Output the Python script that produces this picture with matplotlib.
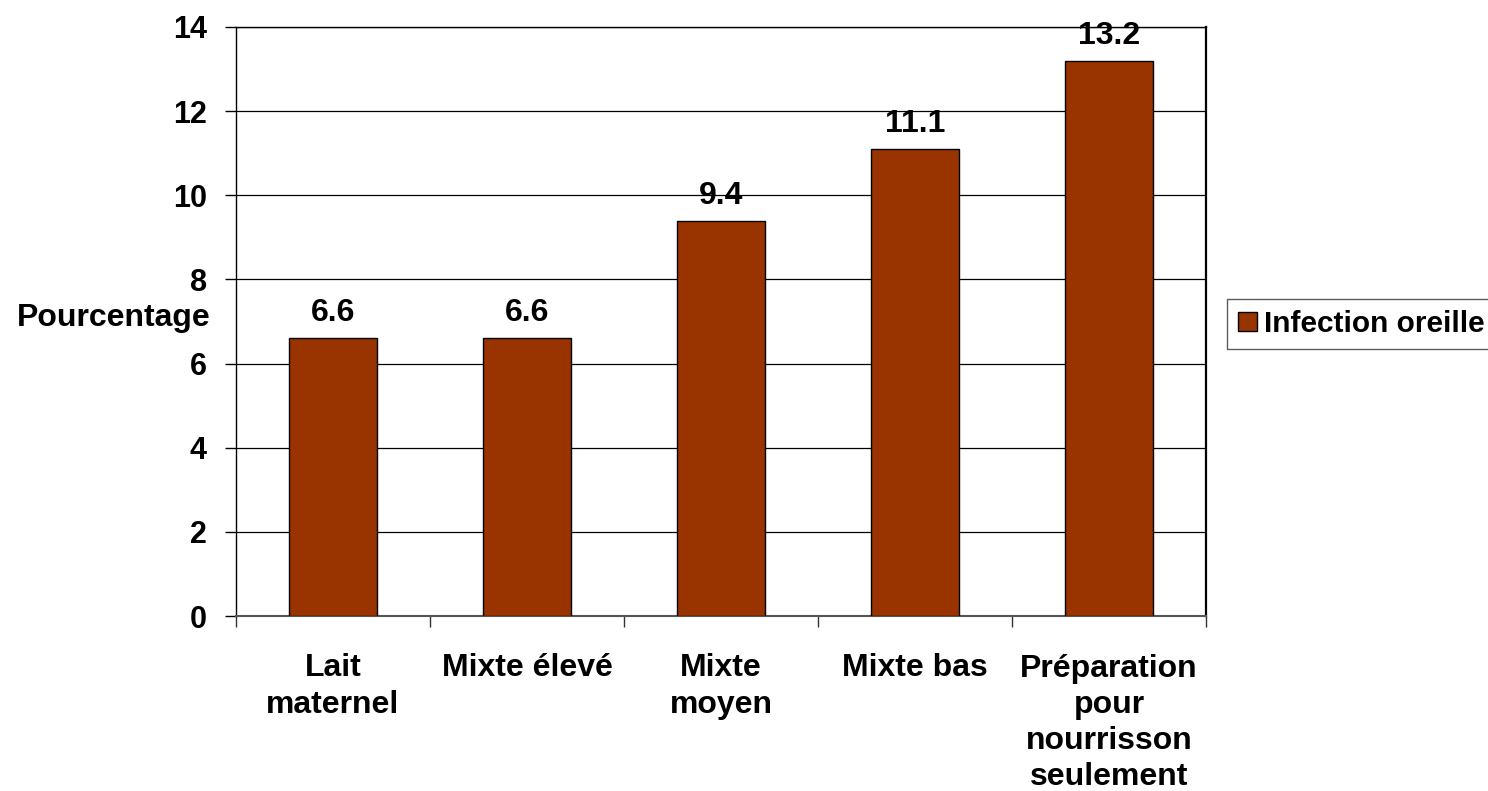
import matplotlib
matplotlib.use("Agg")
import matplotlib.pyplot as plt
from matplotlib.patches import Patch

plt.rcParams['font.family'] = ['Liberation Sans', 'DejaVu Sans']
plt.rcParams['font.weight'] = 'bold'

categories = ["Lait\nmaternel", "Mixte élevé", "Mixte\nmoyen", "Mixte bas",
              "Préparation\npour\nnourrisson\nseulement"]
values = [6.6, 6.6, 9.4, 11.1, 13.2]
series_name = "Infection oreille"
y_ticks = [0, 2, 4, 6, 8, 10, 12, 14]

W, H = 1488, 791
FS = 23
fig = plt.figure(figsize=(W / 100, H / 100), dpi=100)
ax = fig.add_axes([236 / W, (H - 616) / H, 970 / W, 589 / H])

bar_color = "#993300"
x = list(range(len(categories)))
bars = ax.bar(x, values, width=0.455, color=bar_color, edgecolor="black",
              linewidth=1.0, zorder=3)

ax.set_xlim(-0.5, len(categories) - 0.5)
ax.set_ylim(0, 14)
ax.set_yticks(y_ticks)
ax.set_yticklabels([str(t) for t in y_ticks], fontsize=22, fontweight='bold')
ax.yaxis.grid(True, color="black", linewidth=0.9, zorder=0)
ax.set_axisbelow(True)

# category labels centred under each bar, ticks on category boundaries
ax.set_xticks(x)
ax.set_xticklabels(categories, fontsize=FS, fontweight='bold', linespacing=1.27)
ax.tick_params(axis='x', length=0, pad=27)
ax.set_xticks([i - 0.5 for i in range(len(categories) + 1)], minor=True)
ax.tick_params(axis='x', which='minor', length=8, width=1, color="#333333", direction='out')
ax.tick_params(axis='y', length=8, width=1, direction='out', pad=13)

for side in ("left", "right", "top"):
    ax.spines[side].set_color("black")
    ax.spines[side].set_linewidth(1.0)
ax.spines["right"].set_linewidth(1.6)
ax.spines["bottom"].set_color("#555555")
ax.spines["bottom"].set_linewidth(1.5)

for rect, v in zip(bars, values):
    ax.annotate(f"{v:.1f}", (rect.get_x() + rect.get_width() / 2, v),
                xytext=(0, 18), textcoords="offset points",
                ha="center", va="center", fontsize=FS, fontweight="bold")

fig.text(211 / W, 1 - 318 / H, "Pourcentage", ha="right", va="center",
         fontsize=FS, fontweight="bold")

handle = Patch(facecolor=bar_color, edgecolor="black", linewidth=1.0)
leg = fig.legend([handle], [series_name], loc="center left",
                 bbox_to_anchor=(1227 / W, 1 - 324 / H), frameon=True,
                 fancybox=False, edgecolor="#333333", fontsize=21.5,
                 handlelength=0.62, handleheight=0.62, handletextpad=0.25,
                 borderpad=0.38, borderaxespad=0)
leg.get_frame().set_linewidth(1.0)
for t in leg.get_texts():
    t.set_fontweight("bold")

fig.savefig("out.png", dpi=100, facecolor="white")
